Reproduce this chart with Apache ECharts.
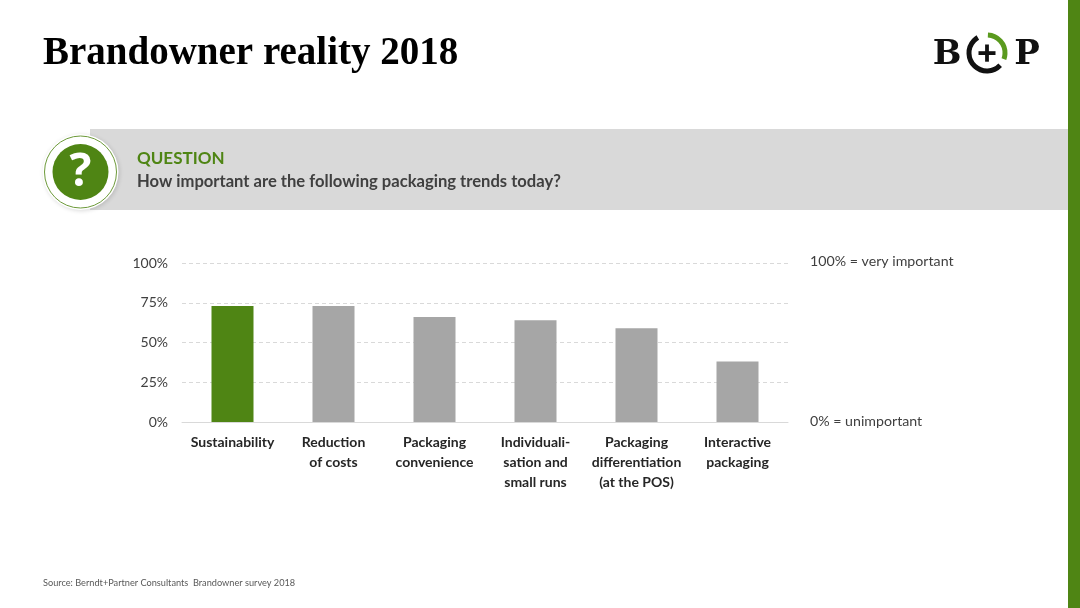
<!DOCTYPE html>
<html>
<head>
<meta charset="utf-8">
<script src="https://cdn.jsdelivr.net/npm/echarts@6/dist/echarts.min.js"></script>
<style>
html,body{margin:0;padding:0;background:#fff;}
#chart{width:1080px;height:608px;}
</style>
</head>
<body>
<div id="chart"></div>
<script>
const categories = [
  'Sustainability',
  'Reduction\nof costs',
  'Packaging\nconvenience',
  'Individuali-\nsation and\nsmall runs',
  'Packaging\ndifferentiation\n(at the POS)',
  'Interactive\npackaging'
];
const importance = [73, 73, 66, 64, 59, 38];
const yTicks = [0, 25, 50, 75, 100];
const highlightIndex = 0;

const GREEN = '#4f8514';
const GRAY = '#a6a6a6';
const FONT = 'Lato, "Open Sans", sans-serif';

const chart = echarts.init(document.getElementById('chart'), null, {renderer: 'canvas'});

const option = {
  backgroundColor: '#ffffff',
  animation: false,
  grid: {left: 182, right: 292, top: 263, bottom: 186, containLabel: false},
  xAxis: {
    type: 'category',
    data: categories,
    axisLine: {show: true, lineStyle: {color: '#d9d9d9', width: 1}},
    axisTick: {show: false},
    axisLabel: {
      interval: 0,
      margin: 10,
      color: '#262626',
      fontFamily: FONT,
      fontWeight: 'bold',
      fontSize: 14,
      lineHeight: 20
    }
  },
  yAxis: {
    type: 'value',
    min: yTicks[0],
    max: yTicks[yTicks.length - 1],
    interval: yTicks[1] - yTicks[0],
    axisLine: {show: false},
    axisTick: {show: false},
    axisLabel: {
      formatter: '{value}%',
      margin: 14,
      color: '#404040',
      fontFamily: FONT,
      fontSize: 14
    },
    splitLine: {show: true, lineStyle: {color: '#d9d9d9', type: [4, 3], width: 1}}
  },
  series: [{
    type: 'bar',
    data: importance,
    barWidth: 42,
    itemStyle: {
      color: function (p) { return p.dataIndex === highlightIndex ? GREEN : GRAY; }
    },
    z: 3
  }],
  graphic: [
    // right green edge
    {type: 'rect', shape: {x: 1068, y: 0, width: 12, height: 608}, style: {fill: '#4f8514'}},
    // title
    {type: 'text', left: 43, top: 34, style: {
      text: 'Brandowner reality 2018',
      font: 'bold 39px "Liberation Serif", "DejaVu Serif", serif',
      fill: '#000000'
    }},
    // question band
    {type: 'rect', shape: {x: 90, y: 129, width: 978, height: 81}, style: {fill: '#d9d9d9'}},
    // question icon
    {type: 'circle', shape: {cx: 80.5, cy: 172, r: 38}, style: {fill: '#ffffff', shadowBlur: 4, shadowColor: 'rgba(0,0,0,0.15)', shadowOffsetX: 1, shadowOffsetY: 1}},
    {type: 'circle', shape: {cx: 80.5, cy: 172, r: 36}, style: {fill: '#ffffff', stroke: '#6d9a3a', lineWidth: 1}},
    {type: 'circle', shape: {cx: 80.5, cy: 172, r: 28}, style: {fill: GREEN}},
    {type: 'text', x: 80.5, y: 173, style: {
      text: '?', font: 'bold 46px "Open Sans", Lato, sans-serif', fill: '#ffffff',
      align: 'center', verticalAlign: 'middle'
    }},
    {type: 'text', left: 137, top: 150, style: {
      text: 'QUESTION', font: 'bold 17px ' + FONT, fill: '#4f8514'
    }},
    {type: 'text', left: 137, top: 173, style: {
      text: 'How important are the following packaging trends today?', font: 'bold 16.6px ' + FONT, fill: '#404040'
    }},
    // right annotations
    {type: 'text', left: 810, top: 254, style: {
      text: '100% = very important', font: '14.2px ' + FONT, fill: '#404040'
    }},
    {type: 'text', left: 810, top: 414, style: {
      text: '0% = unimportant', font: '14.2px ' + FONT, fill: '#404040'
    }},
    // source
    {type: 'text', left: 43, top: 579, style: {
      text: 'Source: Berndt+Partner Consultants  Brandowner survey 2018', font: '9.2px ' + FONT, fill: '#595959'
    }},
    // logo
    {type: 'text', x: 947, y: 55, style: {
      text: 'B', font: 'bold 34px "DejaVu Serif", serif', fill: '#111111', align: 'center', verticalAlign: 'middle'
    }},
    {type: 'text', x: 1027, y: 55, style: {
      text: 'P', font: 'bold 34px "DejaVu Serif", serif', fill: '#111111', align: 'center', verticalAlign: 'middle'
    }},
    {type: 'arc', shape: {cx: 987, cy: 53, r: 18, startAngle: -Math.PI / 2 + 0.05, endAngle: 0.35, clockwise: true},
      style: {stroke: '#5a9a1e', lineWidth: 5, fill: null}},
    {type: 'arc', shape: {cx: 987, cy: 53, r: 18, startAngle: 0.75, endAngle: Math.PI * 1.33, clockwise: true},
      style: {stroke: '#111111', lineWidth: 5, fill: null}},
    {type: 'rect', shape: {x: 978.5, y: 51.2, width: 17, height: 3.8}, style: {fill: '#111111'}},
    {type: 'rect', shape: {x: 985.1, y: 44.5, width: 3.8, height: 17.2}, style: {fill: '#111111'}}
  ]
};
chart.setOption(option);
</script>
</body>
</html>
